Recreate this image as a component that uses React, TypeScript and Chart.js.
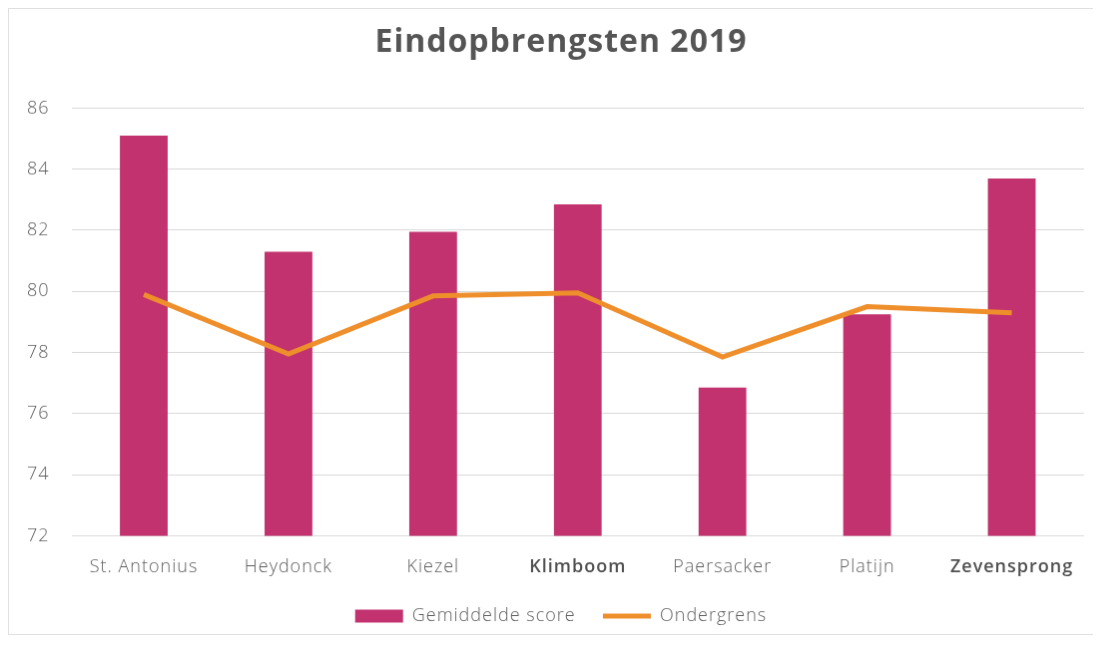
import React, { useEffect, useRef } from "react";
import { Chart, registerables } from "chart.js";

Chart.register(...registerables);

const categories = ["St. Antonius", "Heydonck", "Kiezel", "Klimboom", "Paersacker", "Platijn", "Zevensprong"];
const gemiddeldeScore = [85.1, 81.3, 81.95, 82.85, 76.85, 79.25, 83.7];
const ondergrens = [79.9, 77.95, 79.85, 79.95, 77.85, 79.5, 79.3];
const yTicks = [72, 74, 76, 78, 80, 82, 84, 86];
const boldCategories = ["Klimboom", "Zevensprong"];

const FONT = "'Open Sans', 'DejaVu Sans', sans-serif";
const TEXT = "#5f5f5f";

const spacingPlugin = {
  id: "letterSpacing",
  beforeInit(chart: any) {
    chart.ctx.letterSpacing = "1px";
  },
  beforeUpdate(chart: any) {
    chart.ctx.letterSpacing = "1px";
  },
  beforeDraw(chart: any) {
    chart.ctx.letterSpacing = "1px";
  },
};

export default function App() {
  const ref = useRef<HTMLCanvasElement | null>(null);
  useEffect(() => {
    if (!ref.current) return;
    const chart = new Chart(ref.current, {
      type: "bar",
      data: {
        labels: categories,
        datasets: [
          {
            type: "bar",
            label: "Gemiddelde score",
            data: gemiddeldeScore,
            backgroundColor: "#C2326E",
            borderWidth: 0,
            barPercentage: 0.33,
            categoryPercentage: 1,
            order: 2,
          },
          {
            type: "line",
            label: "Ondergrens",
            data: ondergrens,
            borderColor: "#EE8F2C",
            backgroundColor: "#EE8F2C",
            borderWidth: 5,
            pointRadius: 0,
            tension: 0,
            order: 1,
          },
        ],
      },
      plugins: [spacingPlugin],
      options: {
        responsive: false,
        animation: false,
        layout: { padding: { left: -4, right: 0, top: 0, bottom: -1 } },
        plugins: {
          title: {
            display: true,
            text: "Eindopbrengsten 2019",
            color: "#555555",
            font: { family: FONT, size: 32, weight: "bold" },
            padding: { top: 15, bottom: 46 },
          },
          legend: {
            position: "bottom",
            labels: {
              color: TEXT,
              font: { family: FONT, size: 18, weight: 300 },
              usePointStyle: true,
              pointStyleWidth: 48,
              boxWidth: 48,
              boxHeight: 13,
              padding: 16,
              sort: (a: any, b: any) => a.datasetIndex - b.datasetIndex,
              generateLabels: (c: any) => {
                const items = Chart.defaults.plugins.legend.labels.generateLabels(c);
                items.forEach((it: any) => {
                  if (it.datasetIndex === 0) {
                    it.pointStyle = "rect";
                    it.lineWidth = 0;
                    it.text = it.text + "  ";
                  } else {
                    it.pointStyle = "line";
                    it.lineWidth = 5;
                    it.strokeStyle = "#EE8F2C";
                  }
                });
                return items;
              },
            },
          },
          tooltip: { enabled: false },
        },
        scales: {
          x: {
            grid: { display: false },
            border: { display: false },
            ticks: {
              color: (ctx: any) => (boldCategories.includes(categories[ctx.index]) ? "#505050" : TEXT),
              font: (ctx: any) => ({
                family: FONT,
                size: 18,
                weight: boldCategories.includes(categories[ctx.index]) ? 600 : 300,
              }),
              padding: 13,
              maxRotation: 0,
            },
          },
          y: {
            min: 72,
            max: 86,
            afterBuildTicks: (axis: any) => {
              axis.ticks = yTicks.map((v) => ({ value: v }));
            },
            grid: { color: "#D9D9D9", lineWidth: 1, drawTicks: false },
            border: { display: false },
            ticks: { color: TEXT, font: { family: FONT, size: 18, weight: 300 }, padding: 22 },
          },
          spacer: {
            type: "linear",
            position: "right",
            grid: { display: false, drawOnChartArea: false },
            border: { display: false },
            ticks: { display: false },
            afterFit: (scale: any) => {
              scale.width = 33;
            },
          },
        },
      },
    });
    return () => chart.destroy();
  }, []);
  return (
    <div style={{ position: "relative", width: 1093, height: 629, overflow: "hidden" }}>
      <canvas
        ref={ref}
        width={1110}
        height={627}
        style={{ border: "1px solid #E0E0E0", background: "#fff", display: "block" }}
      />
    </div>
  );
}
